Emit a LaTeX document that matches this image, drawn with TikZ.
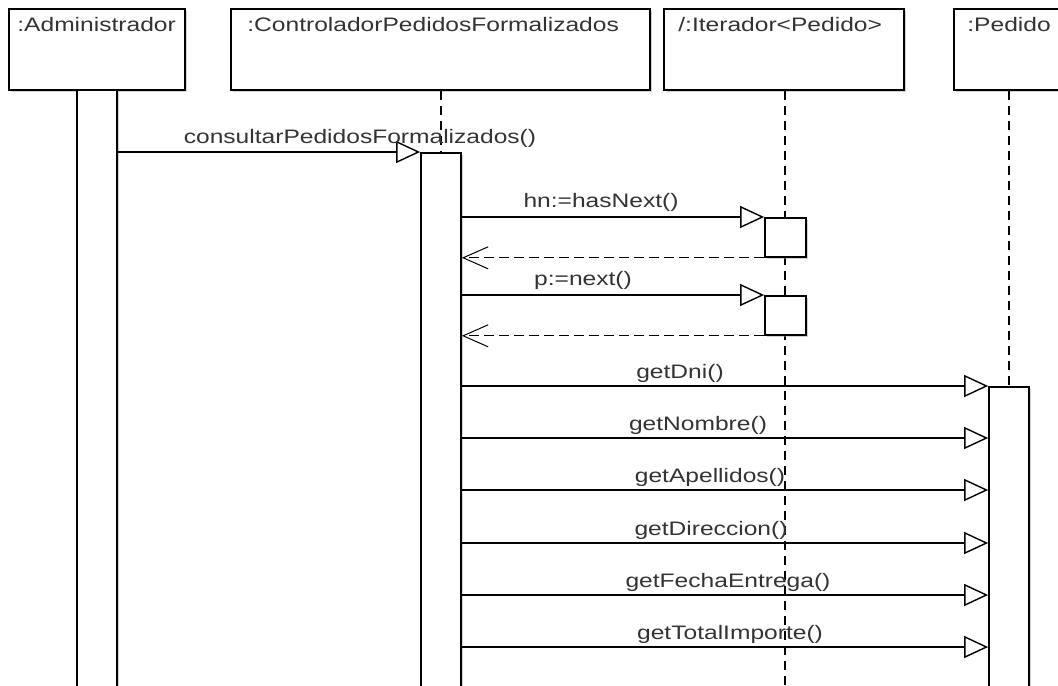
\documentclass[tikz,border=0pt]{standalone}
\usepackage{fontspec}
\setmainfont[FakeStretch=1.26]{Liberation Sans}
\usetikzlibrary{arrows.meta,positioning,shadows}

\begin{document}
\begin{tikzpicture}[
  x=0.5pt, y=-0.5pt,
  font=\fontsize{9.75}{11}\selectfont,
  shade/.style={drop shadow={shadow xshift=1pt, shadow yshift=-1pt, fill=black!35, opacity=0.5}},
  obj/.style={draw, line width=0.9pt, fill=white, anchor=north west, inner sep=0pt, minimum height=40.5pt, shade},
  bar/.style={draw, line width=0.9pt, fill=white, anchor=north, inner sep=0pt, minimum width=20pt, shade},
  hdr/.style={anchor=base west, inner sep=0pt, text=black!80},
  msg/.style={anchor=base, inner sep=0pt, text=black!80},
  life/.style={line width=1pt, dash pattern=on 4.5pt off 3pt},
  call/.style={line width=0.7pt, -{Triangle[open, length=12pt, width=11pt]}},
  ret/.style={line width=0.5pt, dash pattern=on 5pt off 2.5pt, -{Straight Barb[length=12.5pt, width=11pt]}}
]
\clip (0,0) rectangle (1058,685);

% object heads
\node[obj, minimum width=88pt] (adm) at (8,8) {};
\node[obj, minimum width=209.5pt] (ctl) at (230,8) {};
\node[obj, minimum width=120pt] (it) at (663,8) {};
\node[obj, minimum width=56pt] (ped) at (953,8) {};
\node[hdr] (admtxt) at ([xshift=4.5pt, yshift=-11.5pt]adm.north west) {:Administrador};
\node[hdr] (ctltxt) at ([xshift=8.5pt, yshift=-11.5pt]ctl.north west) {:ControladorPedidosFormalizados};
\node[hdr] (ittxt) at ([xshift=7.5pt, yshift=-11.5pt]it.north west) {/:Iterador<Pedido>};
\node[hdr] (pedtxt) at ([xshift=7pt, yshift=-11.5pt]ped.north west) {:Pedido};

% lifelines and activations
\node[bar, minimum height=306pt] (admbar) at (97,89) {};
\node[bar, minimum height=274pt] (ctlbar) at (441,152) {};
\node[bar, minimum height=157pt] (pedbar) at (1009,386) {};
\coordinate (itend) at (785,700);
\draw[life] (ctlbar.north |- ctl.south) -- (ctlbar.north);
\draw[life] (itend |- it.south) -- (itend);
\draw[life] (pedbar.north |- ped.south) -- (pedbar.north);
\node[bar, minimum width=20.5pt, minimum height=19.5pt] (itA) at (785.5,217) {};
\node[bar, minimum width=20.5pt, minimum height=19.5pt] (itB) at (785.5,295) {};

% messages
\draw[call] (admbar.east |- ctlbar.north) -- (ctlbar.north west);
\node[msg] (m1) at (360,143) {consultarPedidosFormalizados()};
\draw[call] (ctlbar.east |- itA.north) -- (itA.north west);
\node[msg] (m2) at (601,207) {hn:=hasNext()};
\draw[ret] (itA.south west) -- (ctlbar.east |- itA.south);
\draw[call] (ctlbar.east |- itB.north) -- (itB.north west);
\node[msg] (m3) at (583,285) {p:=next()};
\draw[ret] (itB.south west) -- (ctlbar.east |- itB.south);
\foreach \yy/\cx/\txt in {386/680/getDni(), 438/698/getNombre(), 490/710/getApellidos(),
    543/711/getDireccion(), 595/728/getFechaEntrega(), 647/730/getTotalImporte()} {
  \draw[call] (ctlbar.east |- 0,\yy) -- (pedbar.west |- 0,\yy);
  \node[msg] at (\cx,\yy-8) {\txt};
}
\end{tikzpicture}
\end{document}
